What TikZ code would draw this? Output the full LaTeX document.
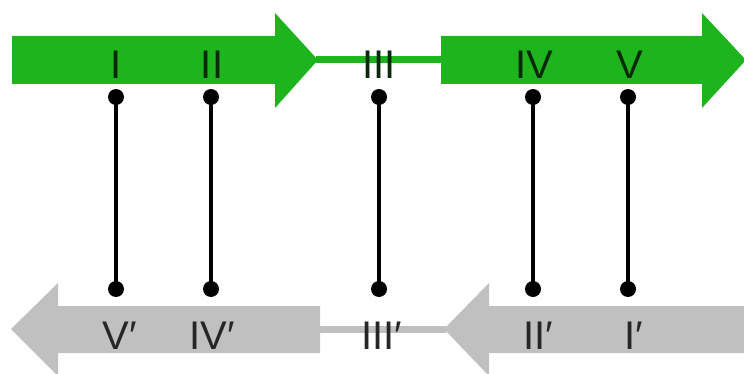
\documentclass[tikz,border=0pt]{standalone}
\usepackage{fontspec}
\setmainfont{Liberation Sans}
\definecolor{strandgreen}{RGB}{30,180,30}
\definecolor{stranggray}{RGB}{192,192,192}
\definecolor{labeldark}{RGB}{10,40,10}
\begin{document}
\begin{tikzpicture}[x=1pt,y=-1pt,
  lbl/.style={anchor=base,inner sep=0pt,font=\fontsize{40}{48}\selectfont},
  toplbl/.style={lbl,text=labeldark},
  botlbl/.style={lbl,text=black!85},
  pairline/.style={line width=3.5pt,black},
  enddot/.style={fill=black}]
\useasboundingbox (0,0) rectangle (744,374);

% upper strand (green, pointing right)
\fill[strandgreen] (12,36) -- (275,36) -- (275,13) -- (318,60) -- (275,108) -- (275,84) -- (12,84) -- cycle;
\fill[strandgreen] (316,56.5) rectangle (443,63.5);
\fill[strandgreen] (441,36) -- (702,36) -- (702,13) -- (746,60) -- (702,108) -- (702,84) -- (441,84) -- cycle;

% lower strand (gray, pointing left)
\fill[stranggray] (320,306) -- (58,306) -- (58,283) -- (11,329) -- (58,376) -- (58,353) -- (320,353) -- cycle;
\fill[stranggray] (318,325.5) rectangle (446,332.5);
\fill[stranggray] (746,306) -- (489,306) -- (489,283) -- (444,329) -- (489,376) -- (489,353) -- (746,353) -- cycle;

% segment labels
\node[toplbl] (t1) at (116,79) {I};
\node[toplbl] (t2) at (212,79) {II};
\node[toplbl] (t3) at (379,79) {III};
\node[toplbl] (t4) at (534,79) {IV};
\node[toplbl] (t5) at (630,79) {V};
\node[botlbl] (b5) at (120,349) {V′};
\node[botlbl] (b4) at (212,349) {IV′};
\node[botlbl] (b3) at (382,349) {III′};
\node[botlbl] (b2) at (538,349) {II′};
\node[botlbl] (b1) at (634,349) {I′};

% pairing ends
\coordinate (p1) at (116,97);  \coordinate (q1) at (116,289);
\coordinate (p2) at (211,97);  \coordinate (q2) at (211,289);
\coordinate (p3) at (379,97);  \coordinate (q3) at (379,289);
\coordinate (p4) at (533,97);  \coordinate (q4) at (533,289);
\coordinate (p5) at (628,97);  \coordinate (q5) at (628,289);

\foreach \i in {1,...,5}{
  \draw[pairline] (p\i) -- (q\i);
  \fill[enddot] (p\i) circle (8);
  \fill[enddot] (q\i) circle (8);
}
\end{tikzpicture}
\end{document}
